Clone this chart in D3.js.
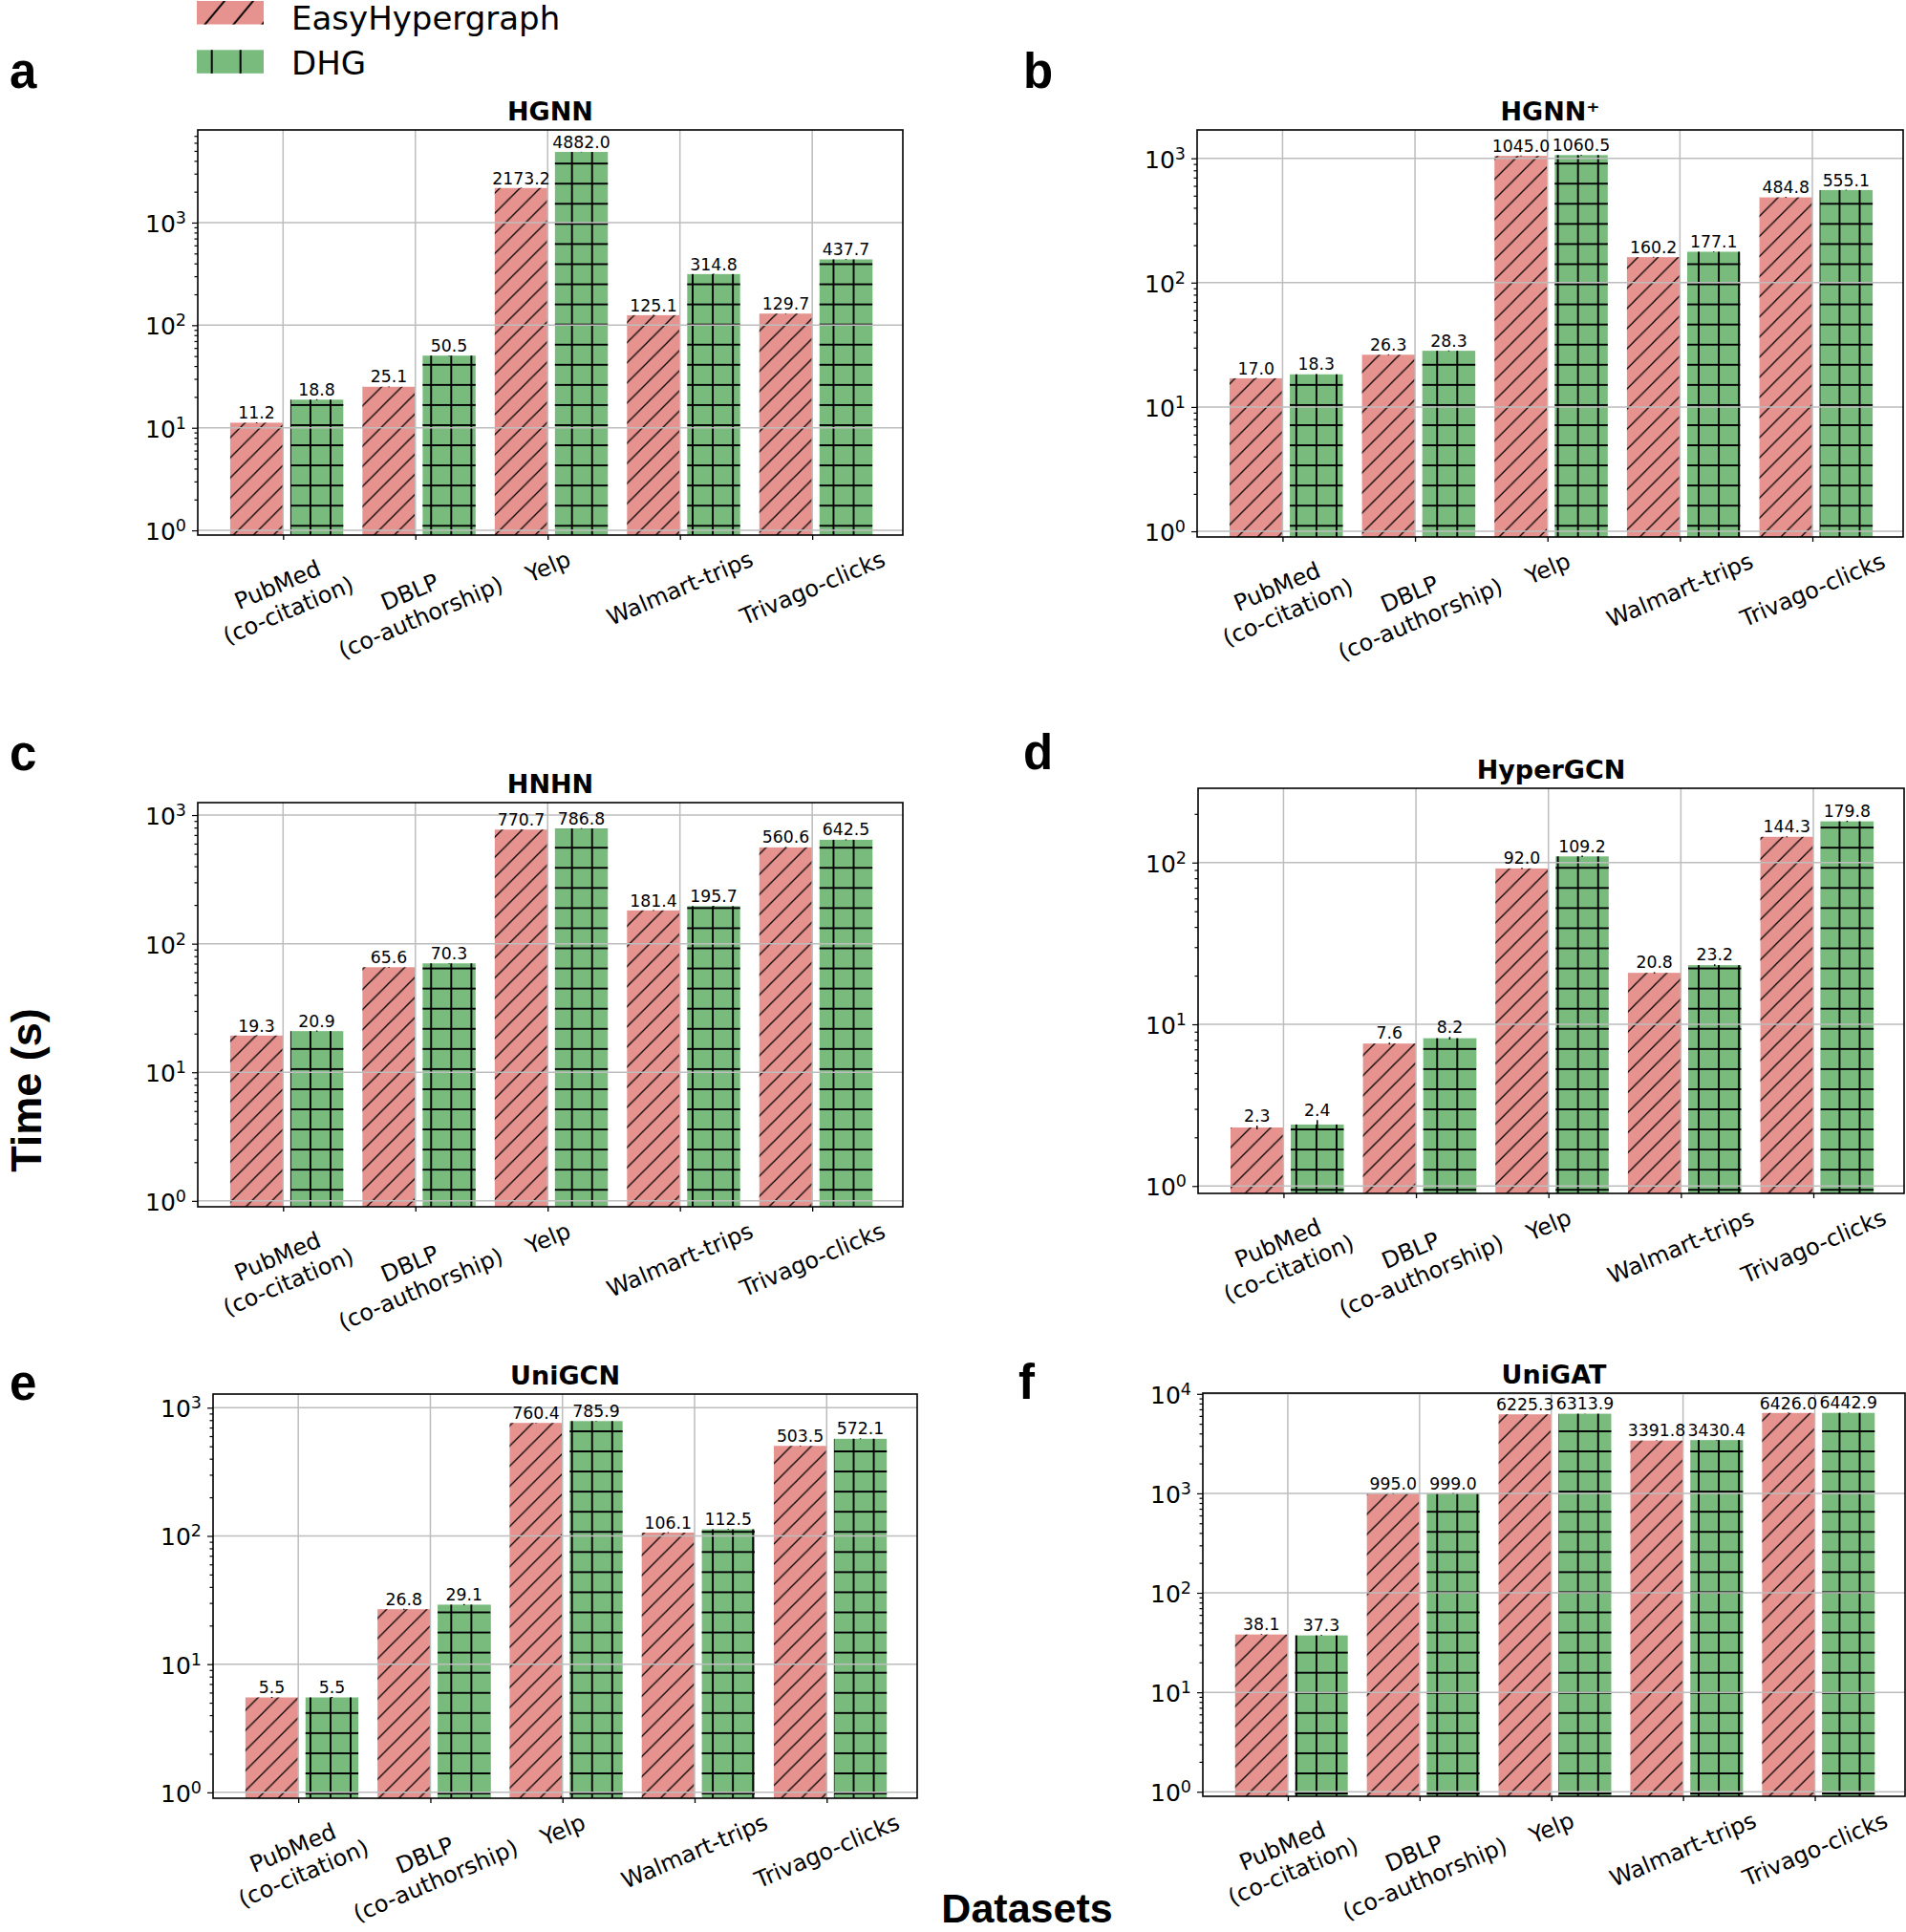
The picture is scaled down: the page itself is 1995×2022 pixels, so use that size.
<!DOCTYPE html>
<html>
<head>
<meta charset="utf-8">
<script src="https://cdn.jsdelivr.net/npm/d3@7"></script>
<style>
  body { margin: 0; background: #fff; }
  svg { display: block; }
</style>
</head>
<body>
<div id="chart"></div>
<script>
// ---- data ----
const datasets = ["PubMed\n(co-citation)", "DBLP\n(co-authorship)", "Yelp", "Walmart-trips", "Trivago-clicks"];
const seriesNames = ["EasyHypergraph", "DHG"];
const methods = ["HGNN", "HGNN\u207A", "HNHN", "HyperGCN", "UniGCN", "UniGAT"];
const panelLetters = ["a", "b", "c", "d", "e", "f"];

const hgnnEasy = [11.2, 25.1, 2173.2, 125.1, 129.7];
const hgnnDhg = [18.8, 50.5, 4882.0, 314.8, 437.7];
const hgnnPlusEasy = [17.0, 26.3, 1045.0, 160.2, 484.8];
const hgnnPlusDhg = [18.3, 28.3, 1060.5, 177.1, 555.1];
const hnhnEasy = [19.3, 65.6, 770.7, 181.4, 560.6];
const hnhnDhg = [20.9, 70.3, 786.8, 195.7, 642.5];
const hypergcnEasy = [2.3, 7.6, 92.0, 20.8, 144.3];
const hypergcnDhg = [2.4, 8.2, 109.2, 23.2, 179.8];
const unigcnEasy = [5.5, 26.8, 760.4, 106.1, 503.5];
const unigcnDhg = [5.5, 29.1, 785.9, 112.5, 572.1];
const unigatEasy = [38.1, 995.0, 6225.3, 3391.8, 6426.0];
const unigatDhg = [37.3, 999.0, 6313.9, 3430.4, 6442.9];

// small error bars (estimated)
const hgnnEasyErr = [0.1, 0.2, 12, 0.8, 0.8];
const hgnnDhgErr = [0.2, 0.3, 20, 2, 3];
const hgnnPlusEasyErr = [0.1, 0.2, 8, 1, 4];
const hgnnPlusDhgErr = [0.1, 0.2, 8, 1, 3];
const hnhnEasyErr = [0.1, 0.4, 5, 1, 4];
const hnhnDhgErr = [0.2, 0.4, 5, 1.5, 5];
const hypergcnEasyErr = [0.06, 0.1, 0.8, 0.2, 1.0];
const hypergcnDhgErr = [0.16, 0.15, 1.0, 0.3, 1.5];
const unigcnEasyErr = [0.05, 0.2, 4, 0.8, 3];
const unigcnDhgErr = [0.05, 0.3, 4, 0.8, 4];
const unigatEasyErr = [0.3, 5, 30, 15, 30];
const unigatDhgErr = [0.3, 5, 30, 15, 30];

const yMin = 0.9;
const yMaxes = [8000, 1690, 1250, 288, 1277, 10180];

const easySeries = [hgnnEasy, hgnnPlusEasy, hnhnEasy, hypergcnEasy, unigcnEasy, unigatEasy];
const dhgSeries = [hgnnDhg, hgnnPlusDhg, hnhnDhg, hypergcnDhg, unigcnDhg, unigatDhg];
const easyErrs = [hgnnEasyErr, hgnnPlusEasyErr, hnhnEasyErr, hypergcnEasyErr, unigcnEasyErr, unigatEasyErr];
const dhgErrs = [hgnnDhgErr, hgnnPlusDhgErr, hnhnDhgErr, hypergcnDhgErr, unigcnDhgErr, unigatDhgErr];

// ---- layout ----
const W = 1995, H = 2022;
const frames = [
  {x0: 207, x1: 945, y0: 136, y1: 560, lx: 10, ly: 92},
  {x0: 1253, x1: 1992, y0: 136, y1: 562, lx: 1071, ly: 92},
  {x0: 207, x1: 945, y0: 840, y1: 1263, lx: 10, ly: 806},
  {x0: 1254, x1: 1993, y0: 825, y1: 1249, lx: 1071, ly: 805},
  {x0: 223, x1: 960, y0: 1459, y1: 1882, lx: 10, ly: 1465},
  {x0: 1259, x1: 1994, y0: 1458, y1: 1880, lx: 1066, ly: 1464}
];
const pink = "#E6928E", green = "#78BB7D";
const gridColor = "#bdbdbd";
const mono = "'DejaVu Sans', sans-serif";
const heavy = "'Liberation Sans', Arial, sans-serif";
const rot = -23;

const svg = d3.select("#chart").append("svg")
  .attr("width", W).attr("height", H)
  .attr("viewBox", `0 0 ${W} ${H}`);

// hatch patterns, anchored to the page like matplotlib does
const P = 21.06;
const defs = svg.append("defs");
const addGrid = (id, p, ox, oy, w) => {
  const pat = defs.append("pattern").attr("id", id).attr("patternUnits", "userSpaceOnUse")
    .attr("width", p).attr("height", p).attr("x", ox - p / 2).attr("y", oy - p / 2);
  pat.append("path").attr("d", `M${p / 2},0V${p}M0,${p / 2}H${p}`)
    .attr("stroke", "#000").attr("stroke-width", w).attr("fill", "none");
};
const addDiag = (id, pw, ph, ox, w) => {
  const pat = defs.append("pattern").attr("id", id).attr("patternUnits", "userSpaceOnUse")
    .attr("width", pw).attr("height", ph).attr("x", ox).attr("y", 0);
  pat.append("path")
    .attr("d", `M0,${ph}L${pw},0M${-pw / 2},${ph / 2}L${pw / 2},${-ph / 2}M${pw / 2},${1.5 * ph}L${1.5 * pw},${ph / 2}`)
    .attr("stroke", "#000").attr("stroke-width", w).attr("fill", "none");
};
addGrid("hatchGrid", P, 9, 2.7, 1.9);
addDiag("hatchDiag", P, P, 4, 1.3);
addGrid("legendGrid", 30, 11.7, 19, 2);
addDiag("legendDiag", 30, 36, 215 - 9.2, 2);

// legend
const legendRows = [
  {name: seriesNames[0], fill: pink, hatch: "legendDiag", y: 1, ty: 31},
  {name: seriesNames[1], fill: green, hatch: "legendGrid", y: 52.3, ty: 77.6}
];
legendRows.forEach(r => {
  svg.append("rect").attr("x", 206).attr("y", r.y).attr("width", 70).attr("height", 24.5).attr("fill", r.fill);
  svg.append("rect").attr("x", 206).attr("y", r.y).attr("width", 70).attr("height", 24.5).attr("fill", `url(#${r.hatch})`);
  svg.append("text").attr("x", 305).attr("y", r.ty)
    .style("font-family", mono).style("font-size", "34px").text(r.name);
});

const placeTickLabel = (label, tx, top) => {
  const t = svg.append("text").attr("text-anchor", "middle")
    .style("font-family", mono).style("font-size", "24px");
  label.split("\n").forEach((s, i) => t.append("tspan").attr("x", 0).attr("dy", i ? "1.2em" : 0).text(s));
  const b = t.node().getBBox();
  const a = rot * Math.PI / 180, c = Math.cos(a), s = Math.sin(a);
  const pts = [[b.x, b.y], [b.x + b.width, b.y], [b.x, b.y + b.height], [b.x + b.width, b.y + b.height]]
    .map(([x, y]) => [x * c - y * s, x * s + y * c]);
  const xs = pts.map(p => p[0]), ys = pts.map(p => p[1]);
  const dx = tx - (d3.min(xs) + d3.max(xs)) / 2, dy = top - d3.min(ys);
  t.attr("transform", `translate(${dx},${dy}) rotate(${rot})`);
};

const drawPanel = (k) => {
  const f = frames[k];
  const x = d3.scaleLinear().domain([-0.645, 4.685]).range([f.x0, f.x1]);
  const y = d3.scaleLog().domain([yMin, yMaxes[k]]).range([f.y1, f.y0]);
  const majors = d3.range(0, 6).map(e => Math.pow(10, e)).filter(v => v <= yMaxes[k] * 1.001);
  const minors = [];
  d3.range(-1, 5).forEach(e => d3.range(2, 10).forEach(m => {
    const v = m * Math.pow(10, e);
    if (v > yMin * 1.01 && v < yMaxes[k]) minors.push(v);
  }));

  const bars = [
    {vals: easySeries[k], errs: easyErrs[k], fill: pink, hatch: "hatchDiag", off: -0.4},
    {vals: dhgSeries[k], errs: dhgErrs[k], fill: green, hatch: "hatchGrid", off: 0.055}
  ];
  bars.forEach(s => {
    s.vals.forEach((v, i) => {
      const bx = x(i + s.off), bw = x(i + s.off + 0.4) - bx;
      svg.append("rect").attr("x", bx).attr("y", y(v)).attr("width", bw).attr("height", f.y1 - y(v)).attr("fill", s.fill);
      svg.append("rect").attr("x", bx).attr("y", y(v)).attr("width", bw).attr("height", f.y1 - y(v)).attr("fill", `url(#${s.hatch})`);
    });
  });

  // grid on top of bars (matplotlib default)
  const g = svg.append("g").attr("stroke", gridColor).attr("stroke-width", 1.5);
  datasets.forEach((d, i) => g.append("line").attr("x1", x(i)).attr("x2", x(i)).attr("y1", f.y0).attr("y2", f.y1));
  majors.forEach(v => g.append("line").attr("x1", f.x0).attr("x2", f.x1).attr("y1", y(v)).attr("y2", y(v)));

  // error bars + value labels
  bars.forEach(s => {
    s.vals.forEach((v, i) => {
      const cx = x(i + s.off + 0.2), e = s.errs[i];
      svg.append("line").attr("x1", cx).attr("x2", cx).attr("y1", y(v - e)).attr("y2", y(v + e))
        .attr("stroke", "#000").attr("stroke-width", 1.5);
      svg.append("text").attr("x", cx).attr("y", y(v + e) - 4).attr("text-anchor", "middle")
        .style("font-family", mono).style("font-size", "17.3px").text(v.toFixed(1));
    });
  });

  // frame
  svg.append("rect").attr("x", f.x0).attr("y", f.y0).attr("width", f.x1 - f.x0).attr("height", f.y1 - f.y0)
    .attr("fill", "none").attr("stroke", "#000").attr("stroke-width", 1.6);

  // y axis ticks
  const yMajor = svg.append("g").attr("transform", `translate(${f.x0},0)`)
    .call(d3.axisLeft(y).tickValues(majors).tickSize(6).tickFormat(""));
  const yMinor = svg.append("g").attr("transform", `translate(${f.x0},0)`)
    .call(d3.axisLeft(y).tickValues(minors).tickSize(3.5).tickFormat(""));
  [yMajor, yMinor].forEach(ax => {
    ax.select(".domain").remove();
    ax.selectAll("line").attr("stroke", "#000").attr("stroke-width", 1.2);
  });
  majors.forEach(v => {
    const t = svg.append("text").attr("x", f.x0 - 12).attr("y", y(v) + 10).attr("text-anchor", "end")
      .style("font-family", mono).style("font-size", "25px").text("10");
    t.append("tspan").attr("dy", -9).style("font-size", "17.5px").text(Math.round(Math.log10(v)));
  });

  // x axis ticks
  const xAx = svg.append("g").attr("transform", `translate(0,${f.y1})`)
    .call(d3.axisBottom(x).tickValues(d3.range(datasets.length)).tickSize(5).tickFormat(""));
  xAx.select(".domain").remove();
  xAx.selectAll("line").attr("stroke", "#000").attr("stroke-width", 1.3);
  datasets.forEach((d, i) => placeTickLabel(d, x(i), f.y1 + 11));

  // title and panel letter
  svg.append("text").attr("x", (f.x0 + f.x1) / 2).attr("y", f.y0 - 10).attr("text-anchor", "middle")
    .style("font-family", mono).style("font-weight", "bold").style("font-size", "27px").text(methods[k]);
  svg.append("text").attr("x", f.lx).attr("y", f.ly)
    .style("font-family", heavy).style("font-weight", "bold").style("font-size", "51px").text(panelLetters[k]);
};

d3.range(methods.length).forEach(drawPanel);

// shared axis labels
svg.append("text").attr("transform", "translate(43,1141) rotate(-90)").attr("text-anchor", "middle")
  .style("font-family", heavy).style("font-weight", "bold").style("font-size", "45px").text("Time (s)");
svg.append("text").attr("x", 1075).attr("y", 2012).attr("text-anchor", "middle")
  .style("font-family", heavy).style("font-weight", "bold").style("font-size", "43px").text("Datasets");
</script>
</body>
</html>
